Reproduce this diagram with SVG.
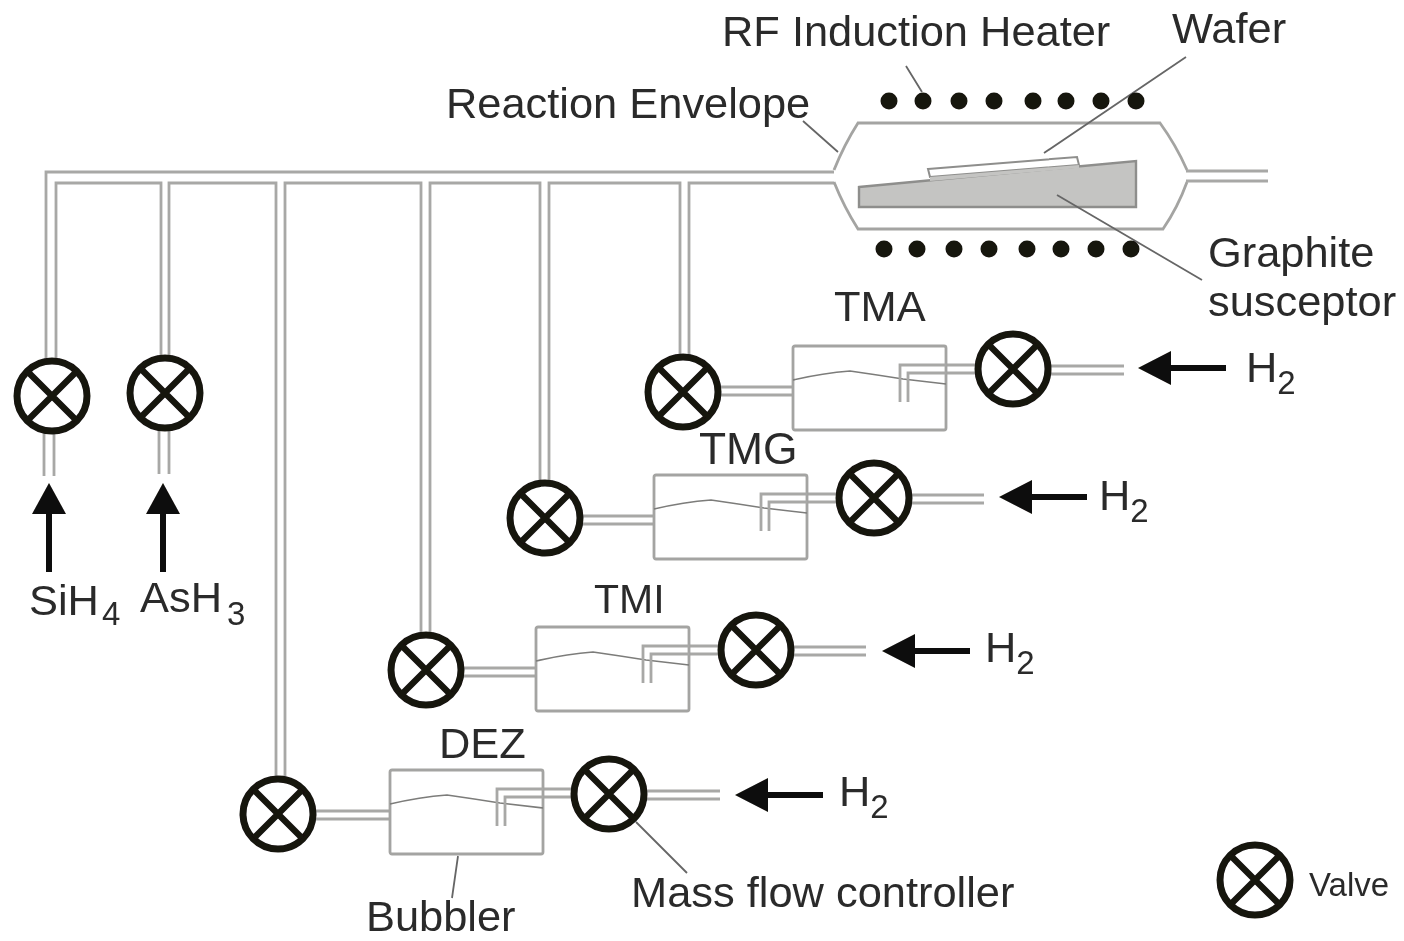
<svg xmlns="http://www.w3.org/2000/svg" width="1404" height="941" viewBox="0 0 1404 941">
<style>
text{font-family:"Liberation Sans",Arial,sans-serif;font-size:43.4px;fill:#2b2b2b}
.sub{font-size:33px}
.small{font-size:33px}
.pipe{fill:none;stroke:#a8a8a6;stroke-width:2.8}
.thin{fill:none;stroke:#7c7c7a;stroke-width:1.6}
.box{fill:none;stroke:#a4a4a2;stroke-width:2.8}
.lead{fill:none;stroke:#666;stroke-width:1.8}
.vc{fill:#fff;stroke:#141210;stroke-width:7}
.vx{stroke:#141210;stroke-width:6.4}
.arrow{stroke:#0c0a08;stroke-width:6;fill:none}
.head{fill:#0c0a08}
.dot{fill:#141210}
</style>
<defs>
<filter id="soft" x="-2%" y="-2%" width="104%" height="104%"><feGaussianBlur stdDeviation="0.75"/></filter>
<g id="valve"><circle class="vc" r="35"/><path class="vx" d="M-24-24L24 24M24-24L-24 24"/></g>
<g id="bubbler">
<rect class="box" width="153" height="84" rx="2"/>
<path class="thin" d="M0 34Q30 27 57 25Q85 29 110 33L153 38"/>
<path class="pipe" d="M107 56V19H153M115 56V27H153"/>
</g>
<g id="arrowL"><path class="head" d="M0 0L33-17V17Z"/><path class="arrow" d="M30 0H88"/></g>
<g id="arrowU"><path class="head" d="M0 0L17 31H-17Z"/><path class="arrow" d="M0 28V89"/></g>
</defs>
<g filter="url(#soft)">
<g id="connectors">
<path class="pipe" d="M834 172H46V358M56 358V183H161V356M169 356V183H276V778M285 778V183H421V636M430 636V183H540V484M549 484V183H680V356M689 356V183H834"/>
<path class="pipe" d="M44 433V476M54 433V476M159 431V474M169 431V474"/>
<path class="pipe" d="M1186 171H1268M1186 181H1268"/>
<path class="pipe" d="M720 387H793M720 395H793"/>
<path class="pipe" d="M582 516H654M582 524H654"/>
<path class="pipe" d="M463 668H536M463 676H536"/>
<path class="pipe" d="M315 811H390M315 819H390"/>
<path class="pipe" d="M946 365H978M946 373H978M1050 366H1124M1050 374H1124"/>
<path class="pipe" d="M807 494H838M807 502H838M911 495H984M911 503H984"/>
<path class="pipe" d="M689 646H720M689 654H720M793 647H866M793 655H866"/>
<path class="pipe" d="M543 789H574M543 797H574M646 791H720M646 799H720"/>
</g>
<g id="reaction-envelope">
<path class="box" d="M834 170Q844 145 858 123H1160Q1176 145 1187 170M834 182Q844 207 858 229H1163Q1178 207 1187 182"/>
</g>
<g id="susceptor">
<path d="M859 187L1136 161V207H859Z" fill="#c4c4c2" stroke="#8e8e8c" stroke-width="2.4"/>
<path d="M928 169L1077 157L1079 165L930 177Z" fill="#fff" stroke="#8e8e8c" stroke-width="2"/>
<path d="M930 177L1079 165V168L930 181Z" fill="#c4c4c2"/>
</g>
<g id="leaders">
<path class="lead" d="M906 66L922 92M803 121L838 152M1186 57L1044 153M1057 195L1202 280M458 856L452 898M636 822L687 873"/>
</g>
<g id="heater-coils">
<circle class="dot" cx="889" cy="101" r="8.5"/><circle class="dot" cx="923" cy="101" r="8.5"/><circle class="dot" cx="959" cy="101" r="8.5"/><circle class="dot" cx="994" cy="101" r="8.5"/><circle class="dot" cx="1033" cy="101" r="8.5"/><circle class="dot" cx="1066" cy="101" r="8.5"/><circle class="dot" cx="1101" cy="101" r="8.5"/><circle class="dot" cx="1136" cy="101" r="8.5"/>
<circle class="dot" cx="884" cy="249" r="8.5"/><circle class="dot" cx="917" cy="249" r="8.5"/><circle class="dot" cx="954" cy="249" r="8.5"/><circle class="dot" cx="989" cy="249" r="8.5"/><circle class="dot" cx="1027" cy="249" r="8.5"/><circle class="dot" cx="1061" cy="249" r="8.5"/><circle class="dot" cx="1096" cy="249" r="8.5"/><circle class="dot" cx="1131" cy="249" r="8.5"/>
</g>
<use id="bubbler-tma" href="#bubbler" x="793" y="346"/>
<use id="bubbler-tmg" href="#bubbler" x="654" y="475"/>
<use id="bubbler-tmi" href="#bubbler" x="536" y="627"/>
<use id="bubbler-dez" href="#bubbler" x="390" y="770"/>
<use id="valve-sih4" href="#valve" x="52" y="396"/>
<use id="valve-ash3" href="#valve" x="165" y="393"/>
<use id="valve-tma-out" href="#valve" x="683" y="392"/>
<use id="valve-tma-in" href="#valve" x="1013" y="369"/>
<use id="valve-tmg-out" href="#valve" x="545" y="518"/>
<use id="valve-tmg-in" href="#valve" x="874" y="498"/>
<use id="valve-tmi-out" href="#valve" x="426" y="670"/>
<use id="valve-tmi-in" href="#valve" x="756" y="650"/>
<use id="valve-dez-out" href="#valve" x="278" y="814"/>
<use id="valve-dez-in" href="#valve" x="609" y="794"/>
<use id="valve-legend" href="#valve" x="1255" y="880"/>
<use id="arrow-tma" href="#arrowL" x="1138" y="368"/>
<use id="arrow-tmg" href="#arrowL" x="999" y="497"/>
<use id="arrow-tmi" href="#arrowL" x="882" y="651"/>
<use id="arrow-dez" href="#arrowL" x="735" y="795"/>
<use id="arrow-sih4" href="#arrowU" x="49" y="483"/>
<use id="arrow-ash3" href="#arrowU" x="163" y="483"/>
<g id="labels">
<text x="722" y="46">RF Induction Heater</text>
<text x="1172" y="43">Wafer</text>
<text x="446" y="118">Reaction Envelope</text>
<text x="1208" y="267">Graphite</text>
<text x="1208" y="316">susceptor</text>
<text x="834" y="321">TMA</text>
<text x="699" y="464" style="font-size:44.4px">TMG</text>
<text x="594" y="613" style="font-size:41px">TMI</text>
<text x="439" y="758">DEZ</text>
<text x="366" y="931">Bubbler</text>
<text x="631" y="907">Mass flow controller</text>
<text x="1309" y="896" class="small">Valve</text>
<text x="29" y="615">SiH<tspan class="sub" dy="10" dx="3">4</tspan></text>
<text x="140" y="612">AsH<tspan class="sub" dy="13" dx="5">3</tspan></text>
<text x="1246" y="382">H<tspan class="sub" dy="12">2</tspan></text>
<text x="1099" y="510">H<tspan class="sub" dy="12">2</tspan></text>
<text x="985" y="662">H<tspan class="sub" dy="12">2</tspan></text>
<text x="839" y="806">H<tspan class="sub" dy="12">2</tspan></text>
</g>
</g>
</svg>
